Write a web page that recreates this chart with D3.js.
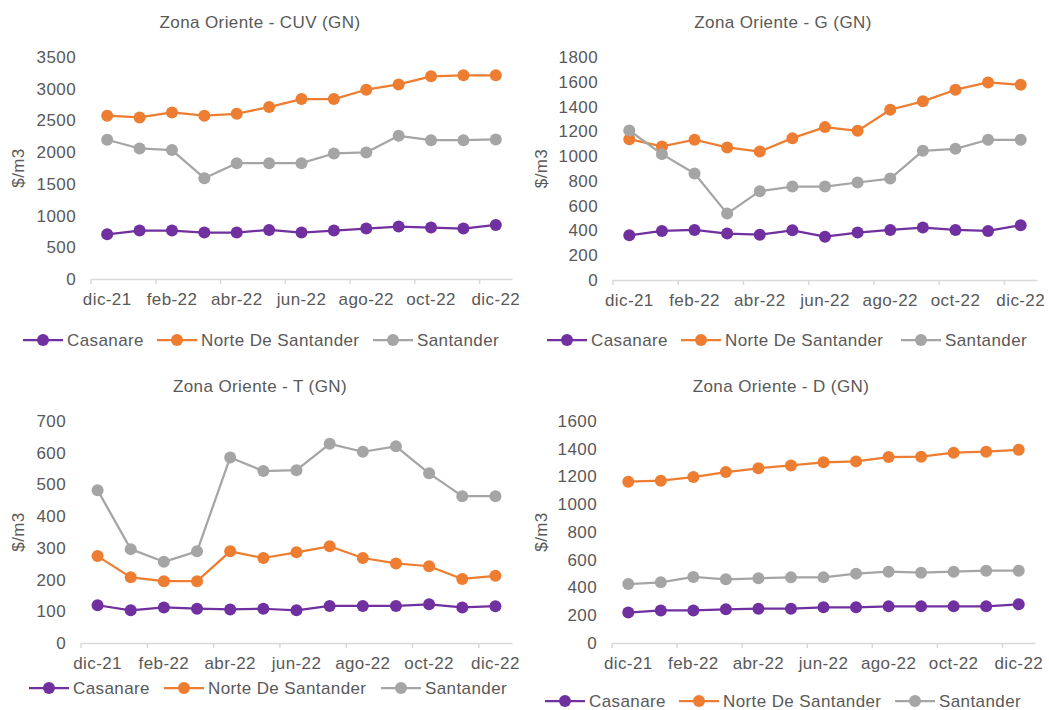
<!DOCTYPE html>
<html>
<head>
<meta charset="utf-8">
<script src="https://cdn.jsdelivr.net/npm/d3@7"></script>
<style>
  body { margin: 0; background: #fff; }
  text { font-family: "Liberation Sans", Arial, sans-serif; fill: #595959; letter-spacing: 0.4px; }
</style>
</head>
<body>
<div id="chart"></div>
<script>
// Data
var months = ["dic-21","ene-22","feb-22","mar-22","abr-22","may-22","jun-22",
              "jul-22","ago-22","sep-22","oct-22","nov-22","dic-22"];
var seriesNames = ["Casanare", "Norte De Santander", "Santander"];
var titles = ["Zona Oriente - CUV (GN)", "Zona Oriente - G (GN)",
              "Zona Oriente - T (GN)", "Zona Oriente - D (GN)"];

var cuvCasanare  = [705, 763, 763, 732, 732, 774, 732, 763, 795, 826, 811, 795, 853];
var cuvNorte     = [2574, 2547, 2626, 2574, 2605, 2711, 2837, 2837, 2984, 3068, 3195, 3211, 3211];
var cuvSantander = [2195, 2058, 2032, 1589, 1826, 1826, 1826, 1979, 1995, 2258, 2189, 2189, 2200];

var gCasanare  = [361, 396, 404, 375, 366, 401, 350, 383, 404, 423, 404, 396, 442];
var gNorte     = [1137, 1078, 1132, 1070, 1037, 1145, 1234, 1204, 1374, 1442, 1536, 1595, 1576];
var gSantander = [1207, 1016, 860, 536, 717, 754, 754, 787, 819, 1043, 1059, 1132, 1132];

var tCasanare  = [119, 103, 112, 108, 106, 108, 103, 117, 117, 117, 122, 112, 116];
var tNorte     = [274, 207, 195, 195, 289, 268, 286, 305, 268, 251, 242, 202, 212];
var tSantander = [482, 296, 256, 289, 585, 542, 545, 628, 603, 620, 535, 463, 463];

var dCasanare  = [219, 235, 235, 243, 247, 247, 257, 257, 264, 264, 264, 264, 279];
var dNorte     = [1163, 1170, 1196, 1232, 1259, 1280, 1302, 1309, 1340, 1343, 1372, 1379, 1393];
var dSantander = [425, 437, 476, 459, 466, 473, 473, 500, 514, 507, 514, 521, 521];

var cuvTicks = [0, 500, 1000, 1500, 2000, 2500, 3000, 3500];
var gTicks   = [0, 200, 400, 600, 800, 1000, 1200, 1400, 1600, 1800];
var tTicks   = [0, 100, 200, 300, 400, 500, 600, 700];
var dTicks   = [0, 200, 400, 600, 800, 1000, 1200, 1400, 1600];

// Layout
var colors = ["#7030A0", "#ED7D31", "#A5A5A5"];

var panels = [
  {title: titles[0], series: [cuvCasanare, cuvNorte, cuvSantander], ticks: cuvTicks,
   x0: 91, x1: 512, yBottom: 279, yTop: 57, titleX: 260, titleY: 22, yLabelX: 18,
   legendY: 340, legendMarks: [43, 177, 393]},
  {title: titles[1], series: [gCasanare, gNorte, gSantander], ticks: gTicks,
   x0: 613, x1: 1037, yBottom: 280, yTop: 57, titleX: 783, titleY: 22, yLabelX: 541,
   legendY: 340, legendMarks: [567, 701, 921]},
  {title: titles[2], series: [tCasanare, tNorte, tSantander], ticks: tTicks,
   x0: 81, x1: 512, yBottom: 643, yTop: 421, titleX: 260, titleY: 386, yLabelX: 18,
   legendY: 688, legendMarks: [49, 184, 401]},
  {title: titles[3], series: [dCasanare, dNorte, dSantander], ticks: dTicks,
   x0: 612, x1: 1035, yBottom: 643, yTop: 421, titleX: 781, titleY: 386, yLabelX: 541,
   legendY: 701, legendMarks: [565, 699, 915]}
];

var svg = d3.select("#chart").append("svg")
    .attr("width", 1049)
    .attr("height", 710);

panels.forEach(function(p) {
  var g = svg.append("g");

  var x = d3.scaleBand().domain(months).range([p.x0, p.x1]).padding(0);
  var y = d3.scaleLinear()
      .domain([0, d3.max(p.ticks)])
      .range([p.yBottom, p.yTop]);
  var bw = x.bandwidth();

  // title
  g.append("text")
    .attr("x", p.titleX)
    .attr("y", p.titleY)
    .attr("text-anchor", "middle")
    .attr("dominant-baseline", "central")
    .style("font-size", "17px")
    .text(p.title);

  // y axis label
  g.append("text")
    .attr("transform", "translate(" + p.yLabelX + "," + ((p.yBottom + p.yTop) / 2) + ") rotate(-90)")
    .attr("text-anchor", "middle")
    .attr("dominant-baseline", "central")
    .style("font-size", "17px")
    .text("$/m3");

  // y axis (labels only)
  var yAxis = d3.axisLeft(y).tickValues(p.ticks).tickFormat(d3.format("d"))
      .tickSize(0).tickPadding(15);
  var ya = g.append("g")
    .attr("transform", "translate(" + p.x0 + ",0)")
    .call(yAxis);
  ya.select(".domain").remove();
  ya.selectAll("text")
    .style("font-size", "17px")
    .style("font-family", null)
    .attr("fill", null);

  // x axis: labels centred on every other month
  var labelMonths = months.filter(function(d, i) { return i % 2 === 0; });
  var xAxis = d3.axisBottom(x).tickValues(labelMonths).tickSize(0).tickPadding(14).tickSizeOuter(0);
  var xa = g.append("g")
    .attr("transform", "translate(0," + p.yBottom + ")")
    .call(xAxis);
  xa.select(".domain").attr("stroke", "#D9D9D9").attr("stroke-width", 1.5);
  xa.selectAll("text")
    .style("font-size", "17px")
    .style("font-family", null)
    .attr("fill", null);

  // tick marks at band boundaries
  g.selectAll(".xtick")
    .data(labelMonths)
    .enter().append("line")
    .attr("x1", function(d) { return x(d); })
    .attr("x2", function(d) { return x(d); })
    .attr("y1", p.yBottom)
    .attr("y2", p.yBottom + 5)
    .attr("stroke", "#D9D9D9")
    .attr("stroke-width", 1.5);

  // lines and markers
  var line = d3.line()
    .x(function(d, i) { return x(months[i]) + bw / 2; })
    .y(function(d) { return y(d); });

  p.series.forEach(function(values, s) {
    g.append("path")
      .datum(values)
      .attr("fill", "none")
      .attr("stroke", colors[s])
      .attr("stroke-width", 2.25)
      .attr("stroke-linejoin", "round")
      .attr("d", line);

    g.selectAll(".dot" + s)
      .data(values)
      .enter().append("circle")
      .attr("cx", function(d, i) { return x(months[i]) + bw / 2; })
      .attr("cy", function(d) { return y(d); })
      .attr("r", 6)
      .attr("fill", colors[s]);
  });

  // legend
  seriesNames.forEach(function(name, s) {
    var cx = p.legendMarks[s];
    g.append("line")
      .attr("x1", cx - 20)
      .attr("x2", cx + 20)
      .attr("y1", p.legendY)
      .attr("y2", p.legendY)
      .attr("stroke", colors[s])
      .attr("stroke-width", 2.25);
    g.append("circle")
      .attr("cx", cx)
      .attr("cy", p.legendY)
      .attr("r", 6)
      .attr("fill", colors[s]);
    g.append("text")
      .attr("x", cx + 24)
      .attr("y", p.legendY)
      .attr("dominant-baseline", "central")
      .style("font-size", "17px")
      .text(name);
  });
});
</script>
</body>
</html>
